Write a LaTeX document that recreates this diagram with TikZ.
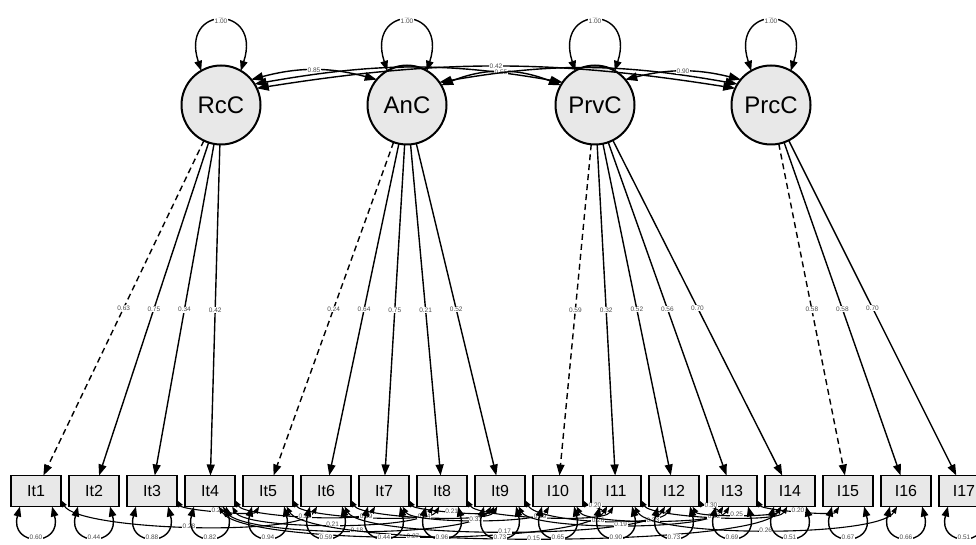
\documentclass[tikz,border=0pt]{standalone}
\usepackage{fontspec}
\setmainfont{Liberation Sans}
\usetikzlibrary{arrows.meta, positioning}

\begin{document}
\begin{tikzpicture}[
    x=1pt, y=1pt,
    latent/.style={circle, draw=black, line width=2pt, fill=black!9, minimum size=79pt, inner sep=0pt, outer sep=0pt, font=\fontsize{24}{24}\selectfont},
    item/.style={rectangle, draw=black, line width=1.8pt, fill=black!9, minimum width=50pt, minimum height=31pt, inner sep=0pt, outer sep=0pt, font=\fontsize{16}{16}\selectfont},
    lab/.style={fill=white, inner sep=0.6pt, text=black!70, font=\fontsize{6.5}{6.5}\selectfont},
    load/.style={-{Triangle[length=11pt, width=8pt]}, line width=1.4pt},
    fixed/.style={dash pattern=on 6pt off 4pt},
    cov/.style={{Triangle[length=12pt, width=8.5pt]}-{Triangle[length=12pt, width=8.5pt]}, line width=1.4pt},
    var/.style={{Triangle[length=10pt, width=7.5pt]}-{Triangle[length=10pt, width=7.5pt]}, line width=1.4pt},
    rcov/.style={{Triangle[length=7pt, width=5pt]}-{Triangle[length=7pt, width=5pt]}, line width=1.1pt, looseness=0.35}
]
\useasboundingbox (0,0) rectangle (976,-545);

% --- latent factors ---
\node[latent] (RcC) at (221,-105) {RcC};
\node[latent, right=107pt of RcC] (AnC) {AnC};
\node[latent, right=109pt of AnC] (PrvC) {PrvC};
\node[latent, right=97pt of PrvC] (PrcC) {PrcC};

% --- observed items ---
\node[item] (It1) at (36,-491) {It1};
\node[item, right=8pt of It1] (It2) {It2};
\node[item, right=8pt of It2] (It3) {It3};
\node[item, right=8pt of It3] (It4) {It4};
\node[item, right=8pt of It4] (It5) {It5};
\node[item, right=8pt of It5] (It6) {It6};
\node[item, right=8pt of It6] (It7) {It7};
\node[item, right=8pt of It7] (It8) {It8};
\node[item, right=8pt of It8] (It9) {It9};
\node[item, right=8pt of It9] (I10) {I10};
\node[item, right=8pt of I10] (I11) {I11};
\node[item, right=8pt of I11] (I12) {I12};
\node[item, right=8pt of I12] (I13) {I13};
\node[item, right=8pt of I13] (I14) {I14};
\node[item, right=8pt of I14] (I15) {I15};
\node[item, right=8pt of I15] (I16) {I16};
\node[item, right=8pt of I16] (I17) {I17};

% --- factor variances ---
\draw[var] (RcC.120) .. controls +(108:70) and +(72:70) .. node[lab] {1.00} (RcC.60);
\draw[var] (AnC.120) .. controls +(108:70) and +(72:70) .. node[lab] {1.00} (AnC.60);
\draw[var] (PrvC.120) .. controls +(108:70) and +(72:70) .. node[lab] {1.00} (PrvC.60);
\draw[var] (PrcC.120) .. controls +(108:70) and +(72:70) .. node[lab] {1.00} (PrcC.60);

% --- factor covariances ---
\draw[cov] (RcC.40) to[out=15, in=165] node[lab] {0.85} (AnC.140);
\draw[cov] (RcC.32) to[out=10, in=170] (PrvC.145);
\draw[cov] (RcC.25) to[out=9, in=171] node[lab] {0.42} (PrcC.155);
\draw[cov] (AnC.30) to[out=22, in=158] node[lab] {0.55} (PrvC.150);
\draw[cov] (AnC.35) to[out=10, in=170] (PrcC.148);
\draw[cov] (PrvC.40) to[out=14, in=166] node[lab] {0.90} (PrcC.140);

% --- loadings (first item of each factor fixed) ---
\draw[load, fixed] (RcC) -- node[lab] {0.63} (It1);
\draw[load] (RcC) -- node[lab] {0.75} (It2);
\draw[load] (RcC) -- node[lab] {0.34} (It3);
\draw[load] (RcC) -- node[lab] {0.42} (It4);

\draw[load, fixed] (AnC) -- node[lab] {0.24} (It5);
\draw[load] (AnC) -- node[lab] {0.64} (It6);
\draw[load] (AnC) -- node[lab] {0.75} (It7);
\draw[load] (AnC) -- node[lab] {0.21} (It8);
\draw[load] (AnC) -- node[lab] {0.52} (It9);

\draw[load, fixed] (PrvC) -- node[lab] {0.59} (I10);
\draw[load] (PrvC) -- node[lab] {0.32} (I11);
\draw[load] (PrvC) -- node[lab] {0.52} (I12);
\draw[load] (PrvC) -- node[lab] {0.56} (I13);
\draw[load] (PrvC) -- node[lab] {0.70} (I14);

\draw[load, fixed] (PrcC) -- node[lab] {0.58} (I15);
\draw[load] (PrcC) -- node[lab] {0.58} (I16);
\draw[load] (PrcC) -- node[lab] {0.70} (I17);

% --- residual covariances ---
\draw[rcov] (It1.-20) to[out=-60, in=-120] node[lab] {0.28} (It6.-120);
\draw[rcov] (It3.-20) to[out=-60, in=-120] node[lab] {0.23} (It5.-120);
\draw[rcov] (It4.-20) to[out=-60, in=-120] node[lab] {0.22} (It7.-120);
\draw[rcov] (It4.-35) to[out=-60, in=-120] node[lab] {0.21} (It8.-120);
\draw[rcov] (It5.-20) to[out=-60, in=-120] node[lab] {0.39} (It8.-100);
\draw[rcov] (It4.-50) to[out=-60, in=-120] node[lab] {0.18} (It9.-120);
\draw[rcov] (It4.-60) to[out=-60, in=-120, looseness=0.3] node[lab] {0.27} (I11.-120);
\draw[rcov] (It5.-40) to[out=-60, in=-120, looseness=0.25] node[lab] {0.15} (I14.-120);
\draw[rcov] (It6.-20) to[out=-60, in=-120] node[lab] {0.24} (It9.-100);
\draw[rcov] (It6.-40) to[out=-60, in=-120, looseness=0.3] node[lab] {0.17} (I12.-120);
\draw[rcov] (It7.-20) to[out=-60, in=-120] node[lab] {0.21} (It9.-110);
\draw[rcov] (It7.-40) to[out=-60, in=-120] node[lab] {0.31} (I10.-120);
\draw[rcov] (It8.-20) to[out=-60, in=-120] node[lab] {0.29} (I11.-100);
\draw[rcov] (It9.-20) to[out=-60, in=-120, looseness=0.45] node[lab] {0.26} (I12.-100);
\draw[rcov] (It9.-40) to[out=-60, in=-120] node[lab] {0.19} (I13.-120);
\draw[rcov] (I10.-20) to[out=-60, in=-120] node[lab] {0.20} (I11.-120);
\draw[rcov] (I10.-40) to[out=-60, in=-120] node[lab] {0.33} (I13.-100);
\draw[rcov] (I11.-20) to[out=-60, in=-120] node[lab] {0.22} (I14.-100);
\draw[rcov] (I11.-40) to[out=-60, in=-120] node[lab] {0.26} (I16.-120);
\draw[rcov] (I12.-20) to[out=-60, in=-120] node[lab] {0.30} (I13.-120);
\draw[rcov] (I12.-40) to[out=-60, in=-120] node[lab] {0.25} (I14.-120);
\draw[rcov] (I13.-20) to[out=-60, in=-120] node[lab] {0.20} (I15.-120);

% --- residual variances ---
\draw[var] (It1.224) .. controls +(255:42) and +(285:42) .. node[lab] {0.60} (It1.316);
\draw[var] (It2.224) .. controls +(255:42) and +(285:42) .. node[lab] {0.44} (It2.316);
\draw[var] (It3.224) .. controls +(255:42) and +(285:42) .. node[lab] {0.88} (It3.316);
\draw[var] (It4.224) .. controls +(255:42) and +(285:42) .. node[lab] {0.82} (It4.316);
\draw[var] (It5.224) .. controls +(255:42) and +(285:42) .. node[lab] {0.94} (It5.316);
\draw[var] (It6.224) .. controls +(255:42) and +(285:42) .. node[lab] {0.59} (It6.316);
\draw[var] (It7.224) .. controls +(255:42) and +(285:42) .. node[lab] {0.44} (It7.316);
\draw[var] (It8.224) .. controls +(255:42) and +(285:42) .. node[lab] {0.96} (It8.316);
\draw[var] (It9.224) .. controls +(255:42) and +(285:42) .. node[lab] {0.73} (It9.316);
\draw[var] (I10.224) .. controls +(255:42) and +(285:42) .. node[lab] {0.65} (I10.316);
\draw[var] (I11.224) .. controls +(255:42) and +(285:42) .. node[lab] {0.90} (I11.316);
\draw[var] (I12.224) .. controls +(255:42) and +(285:42) .. node[lab] {0.73} (I12.316);
\draw[var] (I13.224) .. controls +(255:42) and +(285:42) .. node[lab] {0.69} (I13.316);
\draw[var] (I14.224) .. controls +(255:42) and +(285:42) .. node[lab] {0.51} (I14.316);
\draw[var] (I15.224) .. controls +(255:42) and +(285:42) .. node[lab] {0.67} (I15.316);
\draw[var] (I16.224) .. controls +(255:42) and +(285:42) .. node[lab] {0.66} (I16.316);
\draw[var] (I17.224) .. controls +(255:42) and +(285:42) .. node[lab] {0.51} (I17.316);

\end{tikzpicture}
\end{document}
